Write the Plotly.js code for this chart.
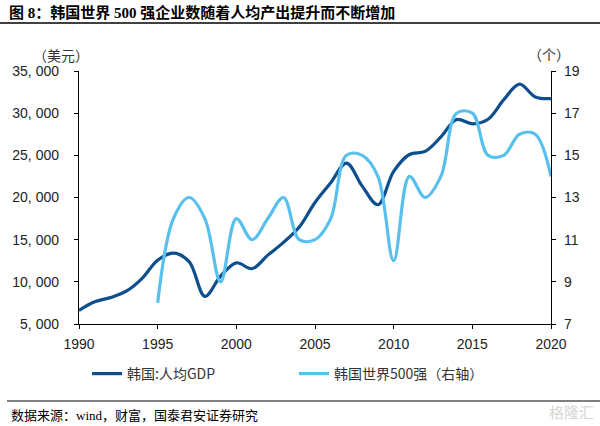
<!DOCTYPE html>
<html>
<head>
<meta charset="utf-8">
<script src="https://cdn.plot.ly/plotly-3.0.1.min.js"></script>
<style>html,body{margin:0;padding:0;background:#fff;}#chart{width:600px;height:426px;}</style>
</head>
<body>
<div id="chart"></div>
<script>
// ---- data ----
const gdpYears = [1990,1991,1992,1993,1994,1995,1996,1997,1998,1999,2000,2001,2002,2003,2004,2005,2006,2007,2008,2009,2010,2011,2012,2013,2014,2015,2016,2017,2018,2019,2020];
const gdpValues = [6610,7637,8127,8885,10385,12565,13403,12398,8282,10672,12257,11561,13165,14673,16496,19403,21743,24086,21350,19144,23087,25096,25467,27182,29250,28737,29274,31601,33447,31929,31721];
const f500Years = [1995,1996,1997,1998,1999,2000,2001,2002,2003,2004,2005,2006,2007,2008,2009,2010,2011,2012,2013,2014,2015,2016,2017,2018,2019,2020];
const f500Values = [8,12,13,12,9,12,11,12,13,11,11,12,15,15,14,10,14,13,14,17,17,15,15,16,16,14];
const seriesNames = ['韩国:人均GDP', '韩国世界500强（右轴）'];
const xTickVals = [1990,1995,2000,2005,2010,2015,2020];
const leftTickVals = [5000,10000,15000,20000,25000,30000,35000];
const leftTickText = ['5, 000','10, 000','15, 000','20, 000','25, 000','30, 000','35, 000'];
const rightTickVals = [7,9,11,13,15,17,19];
const titleText = '图 8：韩国世界 500 强企业数随着人均产出提升而不断增加';
const sourceText = '数据来源：wind，财富，国泰君安证券研究';

// ---- layout helpers (pixel -> paper) ----
const L = 79, R = 551, T = 71, B = 324;
const px = x => (x - L) / (R - L);
const py = y => (B - y) / (B - T);

const tickFont = {family: 'Liberation Sans, Arial, sans-serif', size: 14, color: '#222'};
const cjk = 'Liberation Serif, Noto Sans CJK SC, serif';

const traces = [
  {x: gdpYears, y: gdpValues, name: seriesNames[0], type: 'scatter', mode: 'lines',
   line: {color: '#0F4E8C', width: 3.2, shape: 'spline', smoothing: 1}, yaxis: 'y'},
  {x: f500Years, y: f500Values, name: seriesNames[1], type: 'scatter', mode: 'lines',
   line: {color: '#58C0EC', width: 3.2, shape: 'spline', smoothing: 1}, yaxis: 'y2'}
];

const layout = {
  width: 600, height: 426,
  margin: {l: L, r: 600 - R, t: T, b: 426 - B},
  paper_bgcolor: '#fff', plot_bgcolor: '#fff',
  showlegend: true,
  legend: {orientation: 'h', x: px(87), xanchor: 'left', y: py(374), yanchor: 'middle',
           font: {family: 'Noto Sans CJK SC, sans-serif', size: 14, color: '#333'},
           entrywidth: 162, entrywidthmode: 'pixels', bgcolor: 'rgba(0,0,0,0)'},
  xaxis: {range: [1990, 2020], tickvals: xTickVals, showgrid: false, zeroline: false,
          showline: true, linecolor: '#000', linewidth: 1.2, ticks: 'outside', ticklen: 4,
          tickcolor: '#000', tickfont: tickFont, ticklabelstandoff: 3, fixedrange: true},
  yaxis: {range: [5000, 35000], tickvals: leftTickVals, ticktext: leftTickText, showgrid: false,
          zeroline: false, showline: true, linecolor: '#000', linewidth: 1.2, ticks: 'outside',
          ticklen: 4, tickcolor: '#000', tickfont: tickFont, ticklabelstandoff: 12},
  yaxis2: {range: [7, 19], tickvals: rightTickVals, overlaying: 'y', side: 'right', showgrid: false,
           zeroline: false, showline: true, linecolor: '#000', linewidth: 1.2, ticks: 'outside',
           ticklen: 4, tickcolor: '#000', tickfont: tickFont, ticklabelstandoff: 5},
  shapes: [
    {type: 'line', xref: 'paper', yref: 'paper', x0: px(0), x1: px(600), y0: py(23), y1: py(23),
     line: {color: '#000', width: 1.5}},
    {type: 'line', xref: 'paper', yref: 'paper', x0: px(7), x1: px(600), y0: py(401), y1: py(401),
     line: {color: '#000', width: 1.2}}
  ],
  annotations: [
    {text: '<b>' + titleText + '</b>', xref: 'paper', yref: 'paper', x: px(7), y: py(12),
     xanchor: 'left', yanchor: 'middle', showarrow: false,
     font: {family: cjk, size: 15, color: '#000'}},
    {text: '（美元）', xref: 'paper', yref: 'paper', x: px(61), y: py(55), xanchor: 'center',
     yanchor: 'middle', showarrow: false, font: {family: 'Noto Sans CJK SC, sans-serif', size: 14, color: '#333'}},
    {text: '（个）', xref: 'paper', yref: 'paper', x: px(549), y: py(54), xanchor: 'center',
     yanchor: 'middle', showarrow: false, font: {family: 'Noto Sans CJK SC, sans-serif', size: 14, color: '#333'}},
    {text: sourceText, xref: 'paper', yref: 'paper', x: px(9), y: py(415), xanchor: 'left',
     yanchor: 'middle', showarrow: false, font: {family: cjk, size: 13, color: '#000'}},
    {text: '格隆汇', xref: 'paper', yref: 'paper', x: px(596), y: py(411), xanchor: 'right',
     yanchor: 'middle', showarrow: false, font: {family: 'Noto Sans CJK SC, sans-serif', size: 15, color: '#d6d6d6'}}
  ]
};

Plotly.newPlot('chart', traces, layout, {displayModeBar: false, staticPlot: true});
</script>
</body>
</html>
